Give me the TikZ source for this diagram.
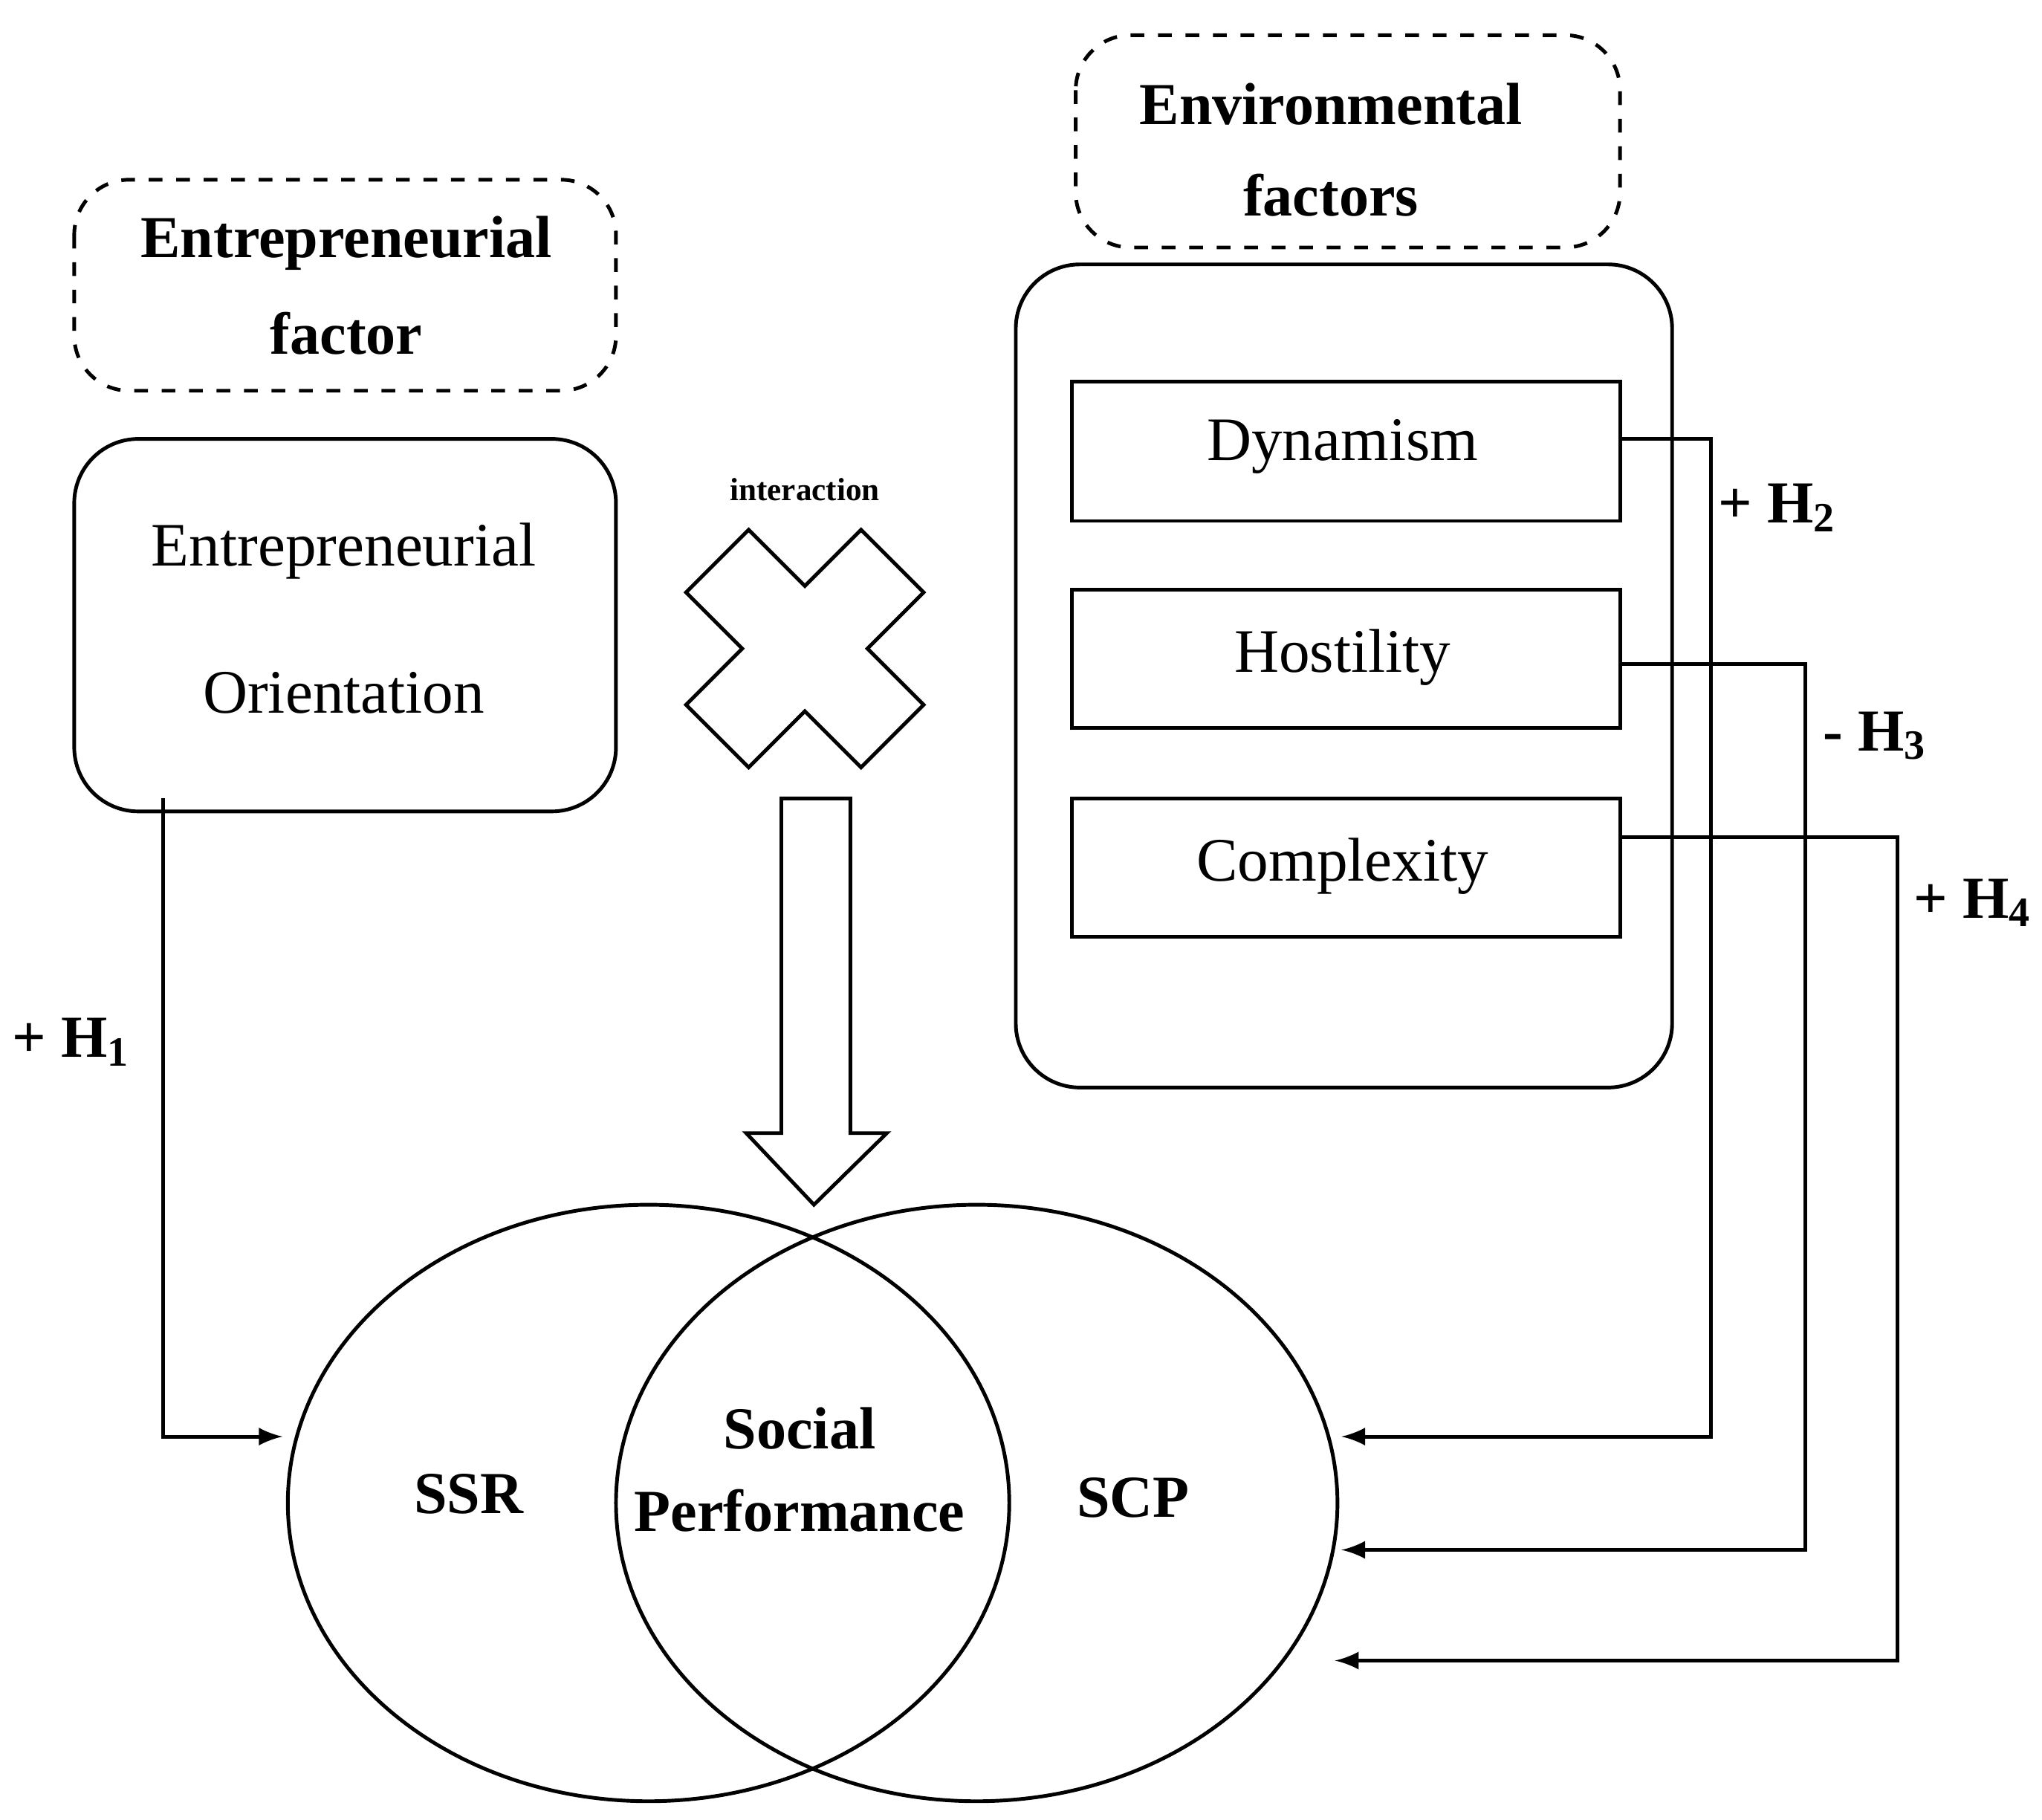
\documentclass[tikz,border=0pt]{standalone}
\usepackage{fontspec}
\setmainfont{Liberation Serif}
\begin{document}
\begin{tikzpicture}[x=0.01cm,y=-0.01cm,line width=0.9pt,
  rbox/.style={draw,rounded corners=14pt,thick},
  dbox/.style={draw,dashed,rounded corners=12pt,thick},
  ibox/.style={draw,thick},
  bt/.style={font=\fontsize{13}{15}\selectfont\bfseries},
  nt/.style={font=\fontsize{13.5}{15}\selectfont},
  arr/.style={-latex,thick}]
\useasboundingbox (0,0) rectangle (1568,1397);
% left
\draw[dbox] (57,138) rectangle (473,300);
\node[bt] (ef1) at (266,187) {Entrepreneurial};
\node[bt] (ef2) at (266,256) {factor};
\draw[rbox] (57,337) rectangle (473,623);
\node[nt] (eo1) at (264,423) {Entrepreneurial};
\node[nt] (eo2) at (264,532) {Orientation};
% interaction
\node[font=\fontsize{7}{8}\selectfont\bfseries] (int) at (618,376) {interaction};
\draw[thick,rotate around={45:(618,498)}] (584,403)--(652,403)--(652,464)--(713,464)--(713,532)--(652,532)--(652,593)--(584,593)--(584,532)--(523,532)--(523,464)--(584,464)--cycle;
\draw[thick] (600,613)--(653,613)--(653,870)--(681,870)--(625,925)--(573,870)--(600,870)--cycle;
% ellipses
\draw[thick] (498,1154) ellipse [x radius=277,y radius=229];
\draw[thick] (750,1154) ellipse [x radius=277,y radius=229];
\node[bt] (ssr) at (360,1147) {SSR};
\node[bt] (scp) at (870,1150) {SCP};
\node[bt] (sp1) at (614,1097) {Social};
\node[bt] (sp2) at (614,1160) {Performance};
% right
\draw[dbox] (826,27) rectangle (1244,190);
\node[bt] (env1) at (1022,80) {Environmental};
\node[bt] (env2) at (1022,150) {factors};
\draw[rbox] (780,203) rectangle (1284,835);
\draw[ibox] (823,293) rectangle (1244,400);
\draw[ibox] (823,453) rectangle (1244,559);
\draw[ibox] (823,613) rectangle (1244,719);
\node[nt] (dyn) at (1031,343) {Dynamism};
\node[nt] (hos) at (1031,505) {Hostility};
\node[nt] (com) at (1031,665) {Complexity};
\coordinate (d0) at (1244,337);
\coordinate (h0) at (1244,510);
\coordinate (c0) at (1244,643);
\coordinate (d1) at (1030,1103);
\coordinate (h1) at (1030,1190);
\coordinate (c1) at (1025,1275);
\draw[arr] (d0) -- (1314,337) -- (1314,1103) -- (d1);
\draw[arr] (h0) -- (1386,510) -- (1386,1190) -- (h1);
\draw[arr] (c0) -- (1457,643) -- (1457,1275) -- (c1);
\coordinate (eo0) at (125,613);
\draw[arr] (eo0) -- (125,1103) -- (217,1103);
\node[bt] (lh1) at (55,800) {+ H\textsubscript{1}};
\node[bt] (lh2) at (1365,390) {+ H\textsubscript{2}};
\node[bt] (lh3) at (1440,565) {- H\textsubscript{3}};
\node[bt] (lh4) at (1515,693) {+ H\textsubscript{4}};
\end{tikzpicture}
\end{document}
